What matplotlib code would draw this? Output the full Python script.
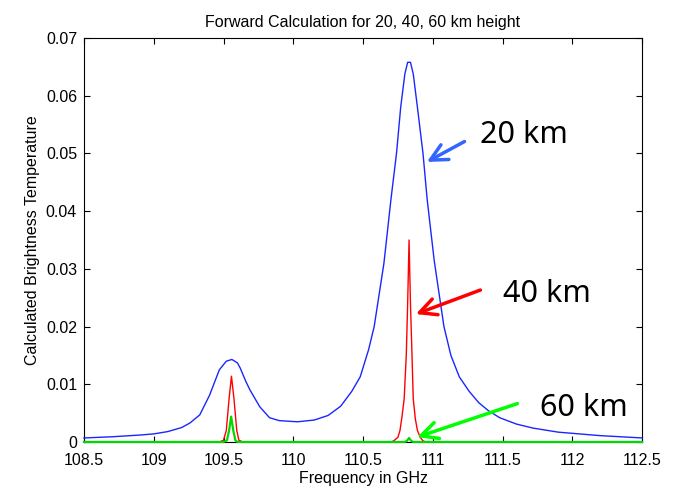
import matplotlib
matplotlib.use("Agg")
import matplotlib.pyplot as plt
import numpy as np

# frequency [GHz] / brightness temperature
freq_20 = [108.5, 108.7, 108.9, 109.0, 109.1, 109.2, 109.26, 109.33, 109.40, 109.47,
           109.52, 109.56, 109.6, 109.62, 109.66, 109.69, 109.76, 109.83, 109.9, 110.03,
           110.15, 110.25, 110.34, 110.42, 110.48, 110.54, 110.58, 110.65, 110.70, 110.74,
           110.77, 110.80, 110.82, 110.84, 110.86, 110.89, 110.93, 110.96, 111.01, 111.08, 111.13,
           111.19, 111.26, 111.33, 111.4, 111.48, 111.6, 111.72, 111.9, 112.2, 112.5]
temp_20 = [0.0007, 0.0009, 0.0012, 0.0014, 0.0018, 0.0025, 0.0033, 0.0047, 0.0081, 0.0125,
           0.0140, 0.0143, 0.0137, 0.0128, 0.0105, 0.0090, 0.0061, 0.0042, 0.0037, 0.0035,
           0.0038, 0.0046, 0.0062, 0.0088, 0.0113, 0.016, 0.020, 0.031, 0.042, 0.050,
           0.058, 0.0638, 0.0658, 0.0658, 0.0638, 0.058, 0.050, 0.042, 0.0315, 0.020, 0.015,
           0.0113, 0.0088, 0.0068, 0.0054, 0.0042, 0.0031, 0.0024, 0.0017, 0.0011, 0.0007]

freq_40 = [108.5, 109.47, 109.50, 109.52, 109.54, 109.557, 109.575, 109.595, 109.61, 109.64,
           110.70, 110.72, 110.75, 110.765, 110.78, 110.795, 110.81, 110.82, 110.83, 110.84,
           110.85, 110.86, 110.875, 110.89, 110.91, 110.93, 110.95, 112.5]
temp_40 = [0.0, 0.0, 0.0003, 0.002, 0.0075, 0.0114, 0.0075, 0.002, 0.0003, 0.0,
           0.0, 0.0002, 0.0008, 0.002, 0.0045, 0.0075, 0.015, 0.024, 0.035, 0.024,
           0.016, 0.0075, 0.004, 0.002, 0.0008, 0.0002, 0.0, 0.0]

freq_60 = [108.5, 109.50, 109.525, 109.54, 109.555, 109.57, 109.585, 109.60,
           110.80, 110.815, 110.83, 110.845, 110.86, 112.5]
temp_60 = [0.0, 0.0, 0.0003, 0.002, 0.0044, 0.002, 0.0003, 0.0,
           0.0, 0.0002, 0.0007, 0.0002, 0.0, 0.0]

xticks = [108.5, 109, 109.5, 110, 110.5, 111, 111.5, 112, 112.5]
xtick_labels = ['108.5', '109', '109.5', '110', '110.5', '111', '111.5', '112', '112.5']
yticks = [0, 0.01, 0.02, 0.03, 0.04, 0.05, 0.06, 0.07]
ytick_labels = ['0', '0.01', '0.02', '0.03', '0.04', '0.05', '0.06', '0.07']

plt.rcParams['font.family'] = ['Liberation Sans Narrow', 'Liberation Sans', 'DejaVu Sans']

fig = plt.figure(figsize=(6.73, 4.88), dpi=100)
ax = fig.add_axes([0.1248, 0.0943, 0.8292, 0.8277])

ax.plot(freq_20, temp_20, color=(0.1, 0.15, 1.0), lw=1.0, zorder=3, clip_on=False)
ax.plot(freq_40, temp_40, color=(1.0, 0.0, 0.0), lw=1.0, zorder=3, clip_on=False)
ax.plot(freq_60, temp_60, color=(0.0, 0.85, 0.0), lw=1.6, zorder=3, clip_on=False)

ax.set_xlim(108.5, 112.5)
ax.set_ylim(0, 0.07)
ax.set_xticks(xticks)
ax.set_xticklabels(xtick_labels)
ax.set_yticks(yticks)
ax.set_yticklabels(ytick_labels)
ax.tick_params(direction='in', top=True, right=True, length=4, labelsize=11.5)
ax.tick_params(axis='x', pad=8)
ax.tick_params(axis='y', pad=5)
for s in ax.spines.values():
    s.set_linewidth(0.8)

ax.set_title('Forward Calculation for 20, 40, 60 km height', fontsize=11.5, pad=8)
ax.set_xlabel('Frequency in GHz', fontsize=11.5, labelpad=2)
ax.set_ylabel('Calculated Brightness Temperature', fontsize=11.5, labelpad=4)

# labels + arrows
arrow_kw = dict(arrowstyle='->,head_length=1.2,head_width=0.6', lw=2.5)
ax.annotate('', xy=(110.94, 0.0483), xytext=(111.245, 0.0523),
            arrowprops=dict(color=(0.2, 0.4, 1.0), **arrow_kw))
ax.annotate('', xy=(110.86, 0.022), xytext=(111.36, 0.0265),
            arrowprops=dict(color=(1.0, 0.0, 0.0), **arrow_kw))
ax.annotate('', xy=(110.87, 0.0007), xytext=(111.625, 0.0068),
            arrowprops=dict(color=(0.0, 1.0, 0.0), **arrow_kw))

txt_kw = dict(fontsize=22, family=['Noto Sans', 'DejaVu Sans'], va='center', ha='left')
ax.text(111.34, 0.0532, '20 km', **txt_kw)
ax.text(111.50, 0.0256, '40 km', **txt_kw)
ax.text(111.77, 0.0059, '60 km', **txt_kw)

fig.savefig('out.png', dpi=100)
